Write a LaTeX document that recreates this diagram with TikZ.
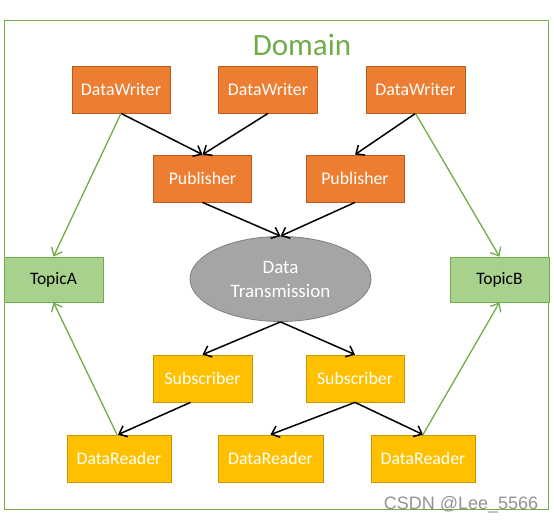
\documentclass[tikz,border=0pt]{standalone}
\usepackage{fontspec}
\setmainfont{Carlito}
\newfontfamily\wmfont{Liberation Sans}
\usetikzlibrary{arrows.meta,shapes.geometric}
\definecolor{dgreen}{HTML}{70AD47}
\definecolor{orfill}{HTML}{ED7D31}
\definecolor{ordraw}{HTML}{B85C1E}
\definecolor{yefill}{HTML}{FFC000}
\definecolor{yedraw}{HTML}{C89600}
\definecolor{grfill}{HTML}{A5A5A5}
\definecolor{grdraw}{HTML}{7F7F7F}
\definecolor{tpfill}{HTML}{A9D18E}
\begin{document}
\begin{tikzpicture}[x=1pt,y=-1pt,
  obox/.style={draw=ordraw,fill=orfill,line width=0.8pt,text=white,font=\fontsize{17.8}{20}\selectfont,inner sep=0pt,minimum height=47pt},
  ybox/.style={draw=yedraw,fill=yefill,line width=0.8pt,text=white,font=\fontsize{17.8}{20}\selectfont,inner sep=0pt,minimum height=47pt},
  tbox/.style={draw=dgreen,fill=tpfill,line width=0.8pt,text=black,font=\fontsize{17.5}{20}\selectfont,inner sep=0pt,minimum width=99pt,minimum height=45pt},
  blk/.style={draw=black,line width=1.5pt,-{Straight Barb[length=7pt,width=12pt,line width=1.5pt]}},
  grn/.style={draw=dgreen,line width=1.3pt,-{Straight Barb[length=7pt,width=12pt,line width=1.3pt]}}]
\useasboundingbox (0,0) rectangle (554,524);
\fill[white] (0,0) rectangle (554,524);
\node[draw=dgreen,line width=1pt,minimum width=544pt,minimum height=488pt,inner sep=0pt] (frame) at (276,265) {};
\node[text=dgreen,font=\fontsize{31}{36}\selectfont,inner sep=0pt] (dom) at (302,45) {Domain};
\node[obox,minimum width=98pt] (dw1) at (121,89.5) {DataWriter};
\node[obox,minimum width=99pt] (dw2) at (268,89.5) {DataWriter};
\node[obox,minimum width=99pt] (dw3) at (415.5,89.5) {DataWriter};
\node[obox,minimum width=98pt] (pub1) at (202.5,178.5) {Publisher};
\node[obox,minimum width=98pt] (pub2) at (355,178.5) {Publisher};
\node[ellipse,draw=grdraw,fill=grfill,line width=0.8pt,minimum width=181pt,minimum height=85pt,inner sep=0pt,text=white,align=center,font=\fontsize{19}{24}\selectfont] (dt) at (280.5,279) {Data\\Transmission};
\node[tbox] (ta) at (53.5,279.5) {TopicA};
\node[tbox] (tb) at (499.5,279.5) {TopicB};
\node[ybox,minimum width=99pt] (sub1) at (202.5,378.5) {Subscriber};
\node[ybox,minimum width=98pt] (sub2) at (355,378.5) {Subscriber};
\node[ybox,minimum width=104pt] (dr1) at (119,458.5) {DataReader};
\node[ybox,minimum width=105pt] (dr2) at (270.5,458.5) {DataReader};
\node[ybox,minimum width=104pt] (dr3) at (423,458.5) {DataReader};
% black arrows
\draw[blk] (dw1.south) -- (pub1.north);
\draw[blk] (dw2.south) -- (pub1.north);
\draw[blk] (dw3.south) -- (pub2.north);
\draw[blk] (pub1.south) -- (dt.north);
\draw[blk] (pub2.south) -- (dt.north);
\draw[blk] (dt.south) -- (sub1.north);
\draw[blk] (dt.south) -- (sub2.north);
\draw[blk] ([xshift=-12pt]sub1.south) -- ([xshift=-1pt]dr1.north);
\draw[blk] (sub2.south) -- (dr2.north);
\draw[blk] (sub2.south) -- (dr3.north);
% green arrows
\draw[grn] (dw1.south) -- (ta.north);
\draw[grn] ([xshift=-2pt]dr1.north) -- (ta.south);
\draw[grn] (dw3.south) -- (tb.north);
\draw[grn] (dr3.north) -- (tb.south);
\node[text=gray!85,font=\wmfont\fontsize{18}{20}\selectfont,inner sep=0pt] (wm) at (461,505) {CSDN @Lee\_5566};
\end{tikzpicture}
\end{document}
